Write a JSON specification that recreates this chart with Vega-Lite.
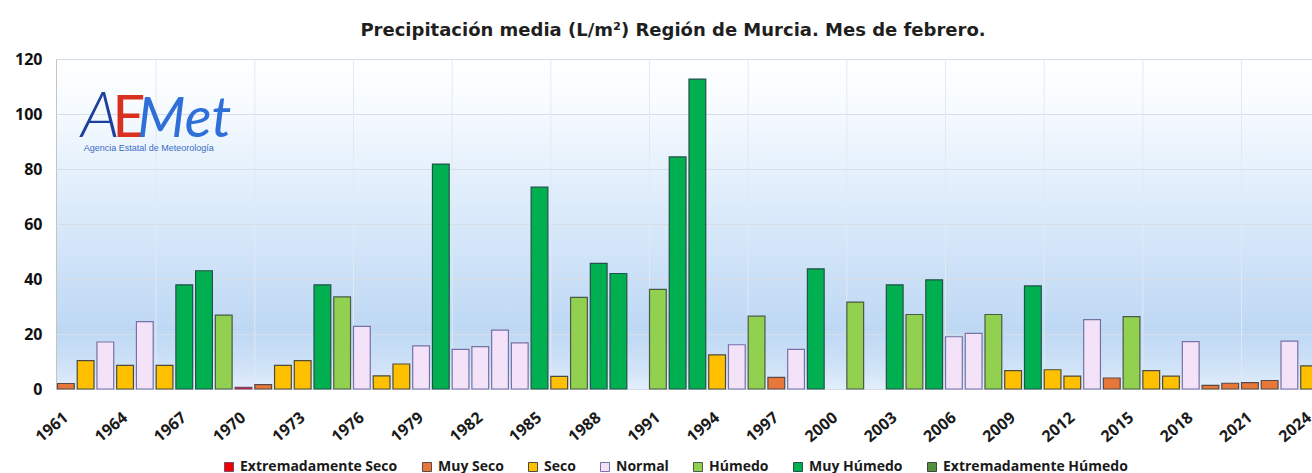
{
  "$schema": "https://vega.github.io/schema/vega-lite/v6.json",
  "autosize": {"type": "none"},
  "width": 1256,
  "height": 330,
  "padding": {"left": 56, "top": 59, "right": 0, "bottom": 84},
  "background": "#ffffff",
  "config": {
    "font": "Open Sans",
    "axisX": {"labelAngle": -40},
    "view": {
      "stroke": "#c4c4c4",
      "strokeWidth": 1,
      "fill": {
        "gradient": "linear", "x1": 0, "y1": 0, "x2": 0, "y2": 1,
        "stops": [
          {"offset": 0, "color": "#ffffff"},
          {"offset": 0.12, "color": "#f8fcff"},
          {"offset": 0.45, "color": "#dcebfb"},
          {"offset": 0.82, "color": "#bed8f4"},
          {"offset": 0.93, "color": "#cfe2f7"},
          {"offset": 1, "color": "#e3eefb"}
        ]
      }
    }
  },
  "title": {
    "text": "Precipitación media (L/m²) Región de Murcia. Mes de febrero.",
    "font": "DejaVu Sans",
    "fontSize": 18,
    "fontWeight": "bold",
    "color": "#1f1f1f",
    "anchor": "middle",
    "dx": -11,
    "offset": 11
  },
  "data": {
    "values": [
      {"year": 1961, "precip": 2.0, "cat": "Muy Seco"},
      {"year": 1962, "precip": 10.3, "cat": "Seco"},
      {"year": 1963, "precip": 17.1, "cat": "Normal"},
      {"year": 1964, "precip": 8.6, "cat": "Seco"},
      {"year": 1965, "precip": 24.5, "cat": "Normal"},
      {"year": 1966, "precip": 8.6, "cat": "Seco"},
      {"year": 1967, "precip": 37.9, "cat": "Muy Húmedo"},
      {"year": 1968, "precip": 43.0, "cat": "Muy Húmedo"},
      {"year": 1969, "precip": 26.9, "cat": "Húmedo"},
      {"year": 1970, "precip": 0.6, "cat": "Extremadamente Seco"},
      {"year": 1971, "precip": 1.6, "cat": "Muy Seco"},
      {"year": 1972, "precip": 8.6, "cat": "Seco"},
      {"year": 1973, "precip": 10.3, "cat": "Seco"},
      {"year": 1974, "precip": 37.9, "cat": "Muy Húmedo"},
      {"year": 1975, "precip": 33.5, "cat": "Húmedo"},
      {"year": 1976, "precip": 22.8, "cat": "Normal"},
      {"year": 1977, "precip": 4.8, "cat": "Seco"},
      {"year": 1978, "precip": 9.1, "cat": "Seco"},
      {"year": 1979, "precip": 15.7, "cat": "Normal"},
      {"year": 1980, "precip": 81.8, "cat": "Muy Húmedo"},
      {"year": 1981, "precip": 14.4, "cat": "Normal"},
      {"year": 1982, "precip": 15.4, "cat": "Normal"},
      {"year": 1983, "precip": 21.4, "cat": "Normal"},
      {"year": 1984, "precip": 16.8, "cat": "Normal"},
      {"year": 1985, "precip": 73.4, "cat": "Muy Húmedo"},
      {"year": 1986, "precip": 4.6, "cat": "Seco"},
      {"year": 1987, "precip": 33.3, "cat": "Húmedo"},
      {"year": 1988, "precip": 45.7, "cat": "Muy Húmedo"},
      {"year": 1989, "precip": 42.0, "cat": "Muy Húmedo"},
      {"year": 1990, "precip": null, "cat": "Extremadamente Seco"},
      {"year": 1991, "precip": 36.2, "cat": "Húmedo"},
      {"year": 1992, "precip": 84.4, "cat": "Muy Húmedo"},
      {"year": 1993, "precip": 112.7, "cat": "Muy Húmedo"},
      {"year": 1994, "precip": 12.4, "cat": "Seco"},
      {"year": 1995, "precip": 16.1, "cat": "Normal"},
      {"year": 1996, "precip": 26.5, "cat": "Húmedo"},
      {"year": 1997, "precip": 4.2, "cat": "Muy Seco"},
      {"year": 1998, "precip": 14.4, "cat": "Normal"},
      {"year": 1999, "precip": 43.7, "cat": "Muy Húmedo"},
      {"year": 2000, "precip": null, "cat": "Extremadamente Seco"},
      {"year": 2001, "precip": 31.6, "cat": "Húmedo"},
      {"year": 2002, "precip": null, "cat": "Extremadamente Seco"},
      {"year": 2003, "precip": 37.9, "cat": "Muy Húmedo"},
      {"year": 2004, "precip": 27.1, "cat": "Húmedo"},
      {"year": 2005, "precip": 39.7, "cat": "Muy Húmedo"},
      {"year": 2006, "precip": 19.0, "cat": "Normal"},
      {"year": 2007, "precip": 20.2, "cat": "Normal"},
      {"year": 2008, "precip": 27.1, "cat": "Húmedo"},
      {"year": 2009, "precip": 6.7, "cat": "Seco"},
      {"year": 2010, "precip": 37.5, "cat": "Muy Húmedo"},
      {"year": 2011, "precip": 7.0, "cat": "Seco"},
      {"year": 2012, "precip": 4.7, "cat": "Seco"},
      {"year": 2013, "precip": 25.2, "cat": "Normal"},
      {"year": 2014, "precip": 4.0, "cat": "Muy Seco"},
      {"year": 2015, "precip": 26.3, "cat": "Húmedo"},
      {"year": 2016, "precip": 6.7, "cat": "Seco"},
      {"year": 2017, "precip": 4.7, "cat": "Seco"},
      {"year": 2018, "precip": 17.2, "cat": "Normal"},
      {"year": 2019, "precip": 1.3, "cat": "Muy Seco"},
      {"year": 2020, "precip": 2.1, "cat": "Muy Seco"},
      {"year": 2021, "precip": 2.3, "cat": "Muy Seco"},
      {"year": 2022, "precip": 3.1, "cat": "Muy Seco"},
      {"year": 2023, "precip": 17.4, "cat": "Normal"},
      {"year": 2024, "precip": 8.4, "cat": "Seco"}
    ]
  },
  "layer": [
    {
      "data": {"values": [{"year": 1966}, {"year": 1971}, {"year": 1976}, {"year": 1981}, {"year": 1986}, {"year": 1991}, {"year": 1996}, {"year": 2001}, {"year": 2006}, {"year": 2011}, {"year": 2016}, {"year": 2021}]},
      "mark": {"type": "rule", "color": "#e2e9f1", "strokeWidth": 1},
      "encoding": {
        "x": {"field": "year", "type": "ordinal", "bandPosition": 0, "axis": {"labelAngle": -40}},
        "y": {"datum": 0, "type": "quantitative"},
        "y2": {"datum": 120}
      }
    },
    {
      "mark": {"type": "bar", "strokeWidth": 1.2},
      "encoding": {
        "x": {
          "field": "year",
          "type": "ordinal",
          "scale": {
            "domain": [1961,1962,1963,1964,1965,1966,1967,1968,1969,1970,1971,1972,1973,1974,1975,1976,1977,1978,1979,1980,1981,1982,1983,1984,1985,1986,1987,1988,1989,1990,1991,1992,1993,1994,1995,1996,1997,1998,1999,2000,2001,2002,2003,2004,2005,2006,2007,2008,2009,2010,2011,2012,2013,2014,2015,2016,2017,2018,2019,2020,2021,2022,2023,2024],
            "range": [0, 1263],
            "paddingInner": 0.15,
            "paddingOuter": 0.075
          },
          "axis": {
            "title": null,
            "values": [1961,1964,1967,1970,1973,1976,1979,1982,1985,1988,1991,1994,1997,2000,2003,2006,2009,2012,2015,2018,2021,2024],
            "labelAngle": -40,
            "labelFontSize": 16,
            "labelFontWeight": "bold",
            "labelColor": "#1a1a1a",
            "labelPadding": 20,
            "labelOffset": -5,
            "labelOverlap": false,
            "ticks": false,
            "domain": false,
            "grid": false
          }
        },
        "y": {
          "field": "precip",
          "type": "quantitative",
          "scale": {"domain": [0, 120], "nice": false},
          "axis": {
            "title": null,
            "values": [0, 20, 40, 60, 80, 100, 120],
            "labelFontSize": 16,
            "labelFontWeight": "bold",
            "labelColor": "#111111",
            "labelPadding": 14,
            "ticks": false,
            "domain": false,
            "grid": true,
            "gridColor": "#d5dde6",
            "gridWidth": 1
          }
        },
        "fill": {
          "field": "cat",
          "type": "nominal",
          "scale": {
            "domain": ["Extremadamente Seco", "Muy Seco", "Seco", "Normal", "Húmedo", "Muy Húmedo", "Extremadamente Húmedo"],
            "range": ["#f00000", "#e8783a", "#ffc000", "#f3e2f8", "#92d050", "#00b050", "#548f3b"]
          },
          "legend": {
            "title": null,
            "orient": "none",
            "direction": "horizontal",
            "columns": 7,
            "legendX": 166,
            "legendY": 401,
            "symbolType": "square",
            "symbolSize": 81,
            "symbolStrokeColor": "#8a8a8a",
            "symbolStrokeWidth": 1,
            "labelFontSize": 14,
            "labelFontWeight": "bold",
            "labelColor": "#1a1a1a",
            "labelOffset": 4,
            "labelLimit": 400,
            "columnPadding": 22
          }
        },
        "stroke": {
          "field": "cat",
          "type": "nominal",
          "scale": {
            "domain": ["Extremadamente Seco", "Muy Seco", "Seco", "Normal", "Húmedo", "Muy Húmedo", "Extremadamente Húmedo"],
            "range": ["#7a4a6a", "#5a4a45", "#4d4a40", "#7672a6", "#4a5a48", "#24524a", "#3a4a3a"]
          },
          "legend": null
        }
      }
    },
    {
      "data": {"values": [{}]},
      "mark": {"type": "text", "text": "A", "font": "Lato", "fontStyle": "italic", "fontWeight": 300, "fontSize": 64, "color": "#1d3f9e", "align": "center", "baseline": "alphabetic", "dx": -5},
      "encoding": {"x": {"datum": 1963, "type": "ordinal"}, "y": {"datum": 91.6, "type": "quantitative"}}
    },
    {
      "data": {"values": [{}]},
      "mark": {"type": "text", "text": "E", "font": "Lato", "fontWeight": 400, "fontSize": 58, "color": "#d9301f", "align": "center", "baseline": "alphabetic", "dx": 4},
      "encoding": {"x": {"datum": 1964, "type": "ordinal"}, "y": {"datum": 91.6, "type": "quantitative"}}
    },
    {
      "data": {"values": [{}]},
      "mark": {"type": "text", "text": "Met", "font": "Lato", "fontStyle": "italic", "fontWeight": 400, "fontSize": 56, "color": "#2f6fd8", "align": "center", "baseline": "alphabetic"},
      "encoding": {"x": {"datum": 1967, "type": "ordinal"}, "y": {"datum": 91.6, "type": "quantitative"}}
    },
    {
      "data": {"values": [{}]},
      "mark": {"type": "text", "text": "Agencia Estatal de Meteorología", "font": "Liberation Sans", "fontSize": 9, "color": "#3b6cc4", "align": "center", "baseline": "alphabetic", "dx": 4},
      "encoding": {"x": {"datum": 1965, "type": "ordinal"}, "y": {"datum": 86.5, "type": "quantitative"}}
    }
  ]
}
